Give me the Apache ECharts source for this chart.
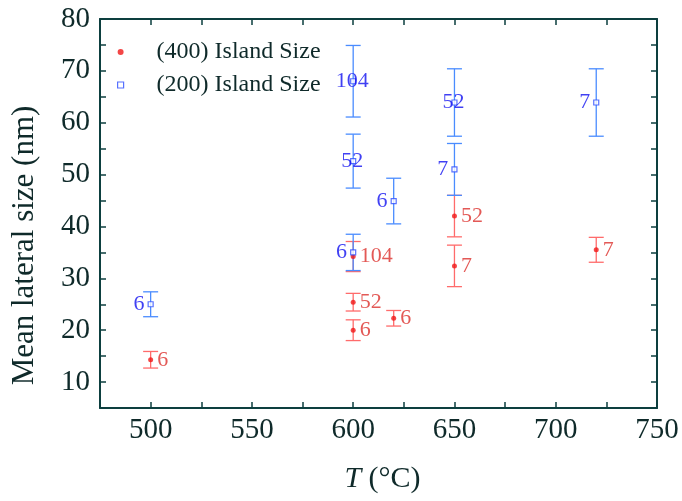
<!DOCTYPE html>
<html>
<head>
<meta charset="utf-8">
<script src="https://cdn.jsdelivr.net/npm/echarts@6/dist/echarts.min.js"></script>
<style>html,body{margin:0;padding:0;background:#fff}#c{width:682px;height:501px}</style>
</head>
<body>
<div id="c"></div>
<script>
// (400) island size
const temps400 = [500, 600, 600, 600, 620, 650, 650, 720];
const size400  = [14.3, 34.2, 25.4, 20.0, 22.3, 42.0, 32.4, 35.5];
const err400   = [1.6, 2.9, 1.7, 2.0, 1.5, 4.0, 4.0, 2.4];
const labels400 = ['6', '104', '52', '6', '6', '52', '7', '7'];
// (200) island size
const temps200 = [500, 600, 600, 600, 620, 650, 650, 720];
const size200  = [25.0, 68.0, 52.6, 35.0, 44.9, 63.9, 51.0, 63.9];
const err200   = [2.4, 6.9, 5.2, 3.5, 4.4, 6.5, 5.0, 6.5];
const labels200 = ['6', '104', '52', '6', '6', '52', '7', '7'];
const seriesNames = ['(400) Island Size', '(200) Island Size'];
const xTicks = [500, 550, 600, 650, 700, 750];
const yTicks = [10, 20, 30, 40, 50, 60, 70, 80];

const FONT = '"Liberation Serif", "Times New Roman", serif';
const AX = '#0d3f3f';
const TXT = '#0f2a2a';
const RED = '#f01818', RED_BAR = '#ff6b6b', RED_TXT = '#dc302c';
const BLUE = '#2d4dff', BLUE_BAR = '#4a8cff', BLUE_TXT = '#1010f0';

function errData(t, s, e) { return t.map((x, i) => [x, s[i] - e[i], s[i] + e[i]]); }
function errItem(color) {
  return function (params, api) {
    const x = api.value(0), lo = api.value(1), hi = api.value(2);
    const a = api.coord([x, hi]), b = api.coord([x, lo]);
    const w = 7.5;
    const st = { stroke: color, lineWidth: 1.3 };
    return { type: 'group', children: [
      { type: 'line', shape: { x1: a[0], y1: a[1], x2: b[0], y2: b[1] }, style: st },
      { type: 'line', shape: { x1: a[0] - w, y1: a[1], x2: a[0] + w, y2: a[1] }, style: st },
      { type: 'line', shape: { x1: b[0] - w, y1: b[1], x2: b[0] + w, y2: b[1] }, style: st }
    ]};
  };
}

const pts400 = temps400.map((x, i) => ({ value: [x, size400[i]], label: { formatter: labels400[i], position: 'right', distance: 4 } }));
const pts200 = temps200.map((x, i) => ({ value: [x, size200[i]], label: labels200[i].length > 1
  ? { formatter: labels200[i], position: 'inside', offset: [-1, 0] }
  : { formatter: labels200[i], position: 'left', distance: 3 } }));

const axCommon = {
  axisLine: { show: true, onZero: false, lineStyle: { color: AX, width: 2 } },
  axisTick: { show: true, inside: true, length: 6, lineStyle: { color: AX, width: 1.5 } },
  splitLine: { show: false }
};

const option = {
  animation: false,
  backgroundColor: '#fff',
  grid: { left: 100, right: 25, top: 19, bottom: 93 },
  legend: {
    orient: 'vertical', left: 112, top: 35, itemGap: 9,
    itemWidth: 6, itemHeight: 6,
    data: [
      { name: seriesNames[0], icon: 'circle', itemStyle: { color: RED } },
      { name: seriesNames[1], icon: 'rect', itemStyle: { color: '#fff', borderColor: BLUE, borderWidth: 1.2 } }
    ],
    textStyle: { fontFamily: FONT, fontSize: 24, color: TXT, padding: [0, 0, 0, 28] }
  },
  xAxis: [
    Object.assign({}, axCommon, {
      type: 'value', min: 475, max: 750, interval: 25, position: 'bottom',
      name: '{i|T} (°C)', nameLocation: 'middle', nameGap: 56,
      nameTextStyle: { fontFamily: FONT, fontSize: 30, color: TXT, padding: [0, 0, 0, 8], rich: { i: { fontFamily: FONT, fontSize: 30, fontStyle: 'italic', color: TXT } } },
      axisLabel: { margin: 8, fontFamily: FONT, fontSize: 29, color: TXT, formatter: v => xTicks.includes(v) ? String(v) : '' }
    }),
    Object.assign({}, axCommon, {
      type: 'value', min: 475, max: 750, interval: 25, position: 'top',
      axisLabel: { show: false }
    })
  ],
  yAxis: [
    Object.assign({}, axCommon, {
      type: 'value', min: 5, max: 80, interval: 5, position: 'left',
      name: 'Mean lateral size (nm)', nameLocation: 'middle', nameGap: 60,
      nameTextStyle: { fontFamily: FONT, fontSize: 31, color: TXT, padding: [0, 64, 0, 0] },
      axisLabel: { margin: 10, fontFamily: FONT, fontSize: 29, color: TXT, formatter: v => yTicks.includes(v) ? String(v) : '' }
    }),
    Object.assign({}, axCommon, {
      type: 'value', min: 5, max: 80, interval: 5, position: 'right',
      axisLabel: { show: false }
    })
  ],
  series: [
    { type: 'custom', name: 'err400', renderItem: errItem(RED_BAR), data: errData(temps400, size400, err400), encode: { x: 0, y: [1, 2] }, z: 2, silent: true },
    { type: 'custom', name: 'err200', renderItem: errItem(BLUE_BAR), data: errData(temps200, size200, err200), encode: { x: 0, y: [1, 2] }, z: 3, silent: true },
    { type: 'scatter', name: seriesNames[0], symbol: 'circle', symbolSize: 5, itemStyle: { color: RED },
      label: { show: true, fontFamily: FONT, fontSize: 22, color: RED_TXT }, data: pts400, z: 5 },
    { type: 'scatter', name: seriesNames[1], symbol: 'rect', symbolSize: 5, itemStyle: { color: '#fff', borderColor: BLUE, borderWidth: 1.2 },
      label: { show: true, fontFamily: FONT, fontSize: 22, color: BLUE_TXT }, data: pts200, z: 6 }
  ]
};
echarts.init(document.getElementById('c'), null, { renderer: 'canvas' }).setOption(option);
</script>
</body>
</html>
